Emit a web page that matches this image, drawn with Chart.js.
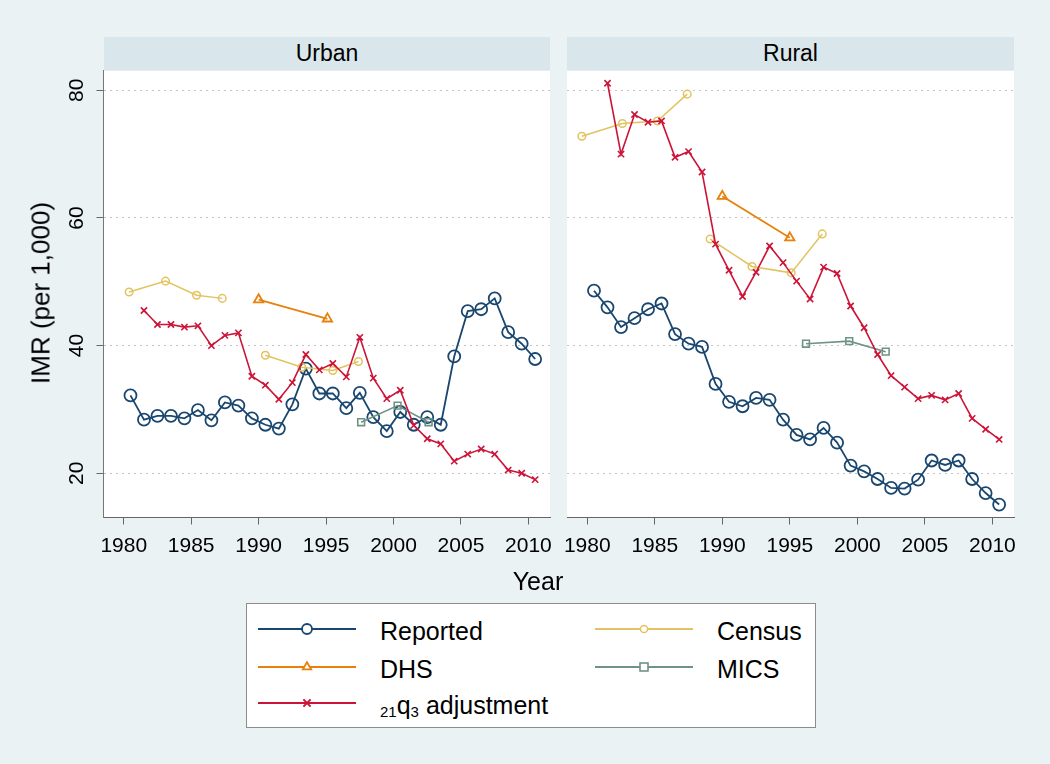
<!DOCTYPE html>
<html>
<head>
<meta charset="utf-8">
<script src="https://cdn.jsdelivr.net/npm/chart.js@4/dist/chart.umd.min.js"></script>
<style>
  html, body { margin: 0; padding: 0; }
  body {
    width: 1050px; height: 764px; overflow: hidden; position: relative;
    background: #eaf2f3; font-family: "Liberation Sans", Arial, sans-serif; color: #000;
  }
  canvas { position: absolute; left: 0; top: 0; }
  .strip {
    position: absolute; top: 37px; height: 34px; line-height: 32px;
    background: #d9e6eb; text-align: center; font-size: 23px;
  }
  .axis-title { position: absolute; font-size: 25px; white-space: nowrap; }
  #legend {
    position: absolute; left: 246px; top: 603px; width: 568px; height: 123px;
    background: #fff; border: 1px solid #8c8c8c;
  }
  .item {
    position: absolute; height: 30px; display: flex; align-items: center;
    font-size: 25px; white-space: nowrap;
  }
  .item svg { margin-right: 24px; }
  .item span { position: relative; top: 2px; }
  .item sub { font-size: 15px; vertical-align: -3px; line-height: 0; }
</style>
</head>
<body>
<div class="strip" style="left:104px;width:446px;">Urban</div>
<div class="strip" style="left:567px;width:447px;">Rural</div>
<canvas id="urban" width="1050" height="764"></canvas>
<canvas id="rural" width="1050" height="764"></canvas>
<div class="axis-title" style="left:41px;top:293px;font-size:26px;transform:translate(-50%,-50%) rotate(-90deg);">IMR (per 1,000)</div>
<div class="axis-title" style="left:538px;top:566px;line-height:30px;transform:translateX(-50%);">Year</div>
<div id="legend"></div>
<script>
const xTicks = [1980, 1985, 1990, 1995, 2000, 2005, 2010];
const yTicks = [20, 40, 60, 80];

const reportedYears = [1980.5, 1981.5, 1982.5, 1983.5, 1984.5, 1985.5, 1986.5, 1987.5, 1988.5, 1989.5,
  1990.5, 1991.5, 1992.5, 1993.5, 1994.5, 1995.5, 1996.5, 1997.5, 1998.5, 1999.5,
  2000.5, 2001.5, 2002.5, 2003.5, 2004.5, 2005.5, 2006.5, 2007.5, 2008.5, 2009.5, 2010.5];
const adjustYears = [1981.5, 1982.5, 1983.5, 1984.5, 1985.5, 1986.5, 1987.5, 1988.5, 1989.5,
  1990.5, 1991.5, 1992.5, 1993.5, 1994.5, 1995.5, 1996.5, 1997.5, 1998.5, 1999.5,
  2000.5, 2001.5, 2002.5, 2003.5, 2004.5, 2005.5, 2006.5, 2007.5, 2008.5, 2009.5, 2010.5];

// Urban
const urbanReported = [32.2, 28.4, 29.0, 29.0, 28.6, 29.9, 28.3, 31.1, 30.6, 28.6,
  27.6, 27.0, 30.8, 36.4, 32.5, 32.5, 30.2, 32.6, 28.8, 26.6,
  29.6, 27.6, 28.8, 27.6, 38.3, 45.4, 45.7, 47.4, 42.1, 40.3, 37.9];
const urbanAdjust = [45.5, 43.3, 43.3, 42.9, 43.1, 40.0, 41.6, 42.0, 35.2,
  33.8, 31.6, 34.2, 38.6, 36.2, 37.2, 35.1, 41.3, 34.9, 31.7,
  33.0, 27.5, 25.4, 24.6, 21.9, 23.0, 23.8, 23.0, 20.5, 20.0, 19.0];
const urbanCensusYears = [[1980.4, 1983.1, 1985.4, 1987.3], [1990.5, 1993.2, 1995.5, 1997.4]];
const urbanCensus = [[48.4, 50.1, 47.9, 47.4], [38.5, 36.6, 36.1, 37.5]];
const urbanDhsYears = [1990.0, 1995.1];
const urbanDhs = [47.2, 44.2];
const urbanMicsYears = [1997.6, 2000.3, 2002.6];
const urbanMics = [28.0, 30.6, 28.0];

// Rural
const ruralReported = [48.6, 46.0, 42.9, 44.3, 45.7, 46.6, 41.8, 40.3, 39.8, 34.0,
  31.2, 30.5, 31.8, 31.5, 28.4, 26.0, 25.3, 27.1, 24.8, 21.2,
  20.3, 19.1, 17.7, 17.6, 19.0, 22.0, 21.3, 22.0, 19.1, 16.9, 15.1];
const ruralAdjust = [81.1, 70.0, 76.2, 75.0, 75.2, 69.5, 70.4, 67.2, 55.9,
  51.8, 47.7, 51.5, 55.6, 53.0, 50.1, 47.3, 52.3, 51.3, 46.2,
  42.8, 38.6, 35.3, 33.5, 31.7, 32.2, 31.5, 32.5, 28.6, 26.9, 25.3];
const ruralCensusYears = [[1979.6, 1982.6, 1985.2, 1987.4], [1989.1, 1992.2, 1995.1, 1997.4]];
const ruralCensus = [[72.8, 74.8, 75.2, 79.4], [56.7, 52.4, 51.4, 57.5]];
const ruralDhsYears = [1990.0, 1995.0];
const ruralDhs = [63.4, 56.9];
const ruralMicsYears = [1996.2, 1999.4, 2002.1];
const ruralMics = [40.3, 40.7, 39.05];

const FONT = '"Liberation Sans", Arial, sans-serif';

const styles = {
  reported: { color: "#1a476f", pointStyle: "circle", radius: 6, width: 1.8, order: 4 },
  census: { color: "#e2c35f", pointStyle: "circle", radius: 3.8, width: 1.5, order: 3 },
  dhs: { color: "#e8800c", pointStyle: "triangle", radius: 5.4, width: 1.8, order: 2 },
  mics: { color: "#6f9384", pointStyle: "rect", radius: 4.8, width: 1.6, order: 1 },
  adjust: { color: "#cc1438", pointStyle: "crossRot", radius: 4.4, width: 1.6, order: 0 },
};

const series = (xs, ys, st) => ({
  data: xs.map((x, i) => ({ x, y: ys[i] })),
  borderColor: st.color,
  borderWidth: st.width,
  pointStyle: st.pointStyle,
  pointRadius: st.radius,
  pointBorderColor: st.color,
  pointBackgroundColor: "transparent",
  pointBorderWidth: st.width,
  tension: 0,
  fill: false,
  order: st.order,
});

const plotBackground = {
  id: "plotBackground",
  beforeDraw(chart) {
    const { ctx, chartArea: a } = chart;
    ctx.save();
    ctx.fillStyle = "#fff";
    ctx.fillRect(a.left, a.top, a.right - a.left, a.bottom - a.top);
    ctx.restore();
  },
};

const makePanel = (canvasId, d, isLeft) => {
  const datasets = [
    series(reportedYears, d.reported, styles.reported),
    ...d.censusYears.map((ys, i) => series(ys, d.census[i], styles.census)),
    series(d.dhsYears, d.dhs, styles.dhs),
    series(d.micsYears, d.mics, styles.mics),
    series(adjustYears, d.adjust, styles.adjust),
  ];

  new Chart(document.getElementById(canvasId), {
    type: "line",
    data: { datasets },
    options: {
      responsive: false,
      animation: false,
      events: [],
      layout: {
        padding: isLeft
          ? { left: 0, top: 70.7, right: 500, bottom: 0 }
          : { left: 567, top: 70.7, right: 36, bottom: 0 },
      },
      plugins: { legend: { display: false }, tooltip: { enabled: false } },
      scales: {
        x: {
          type: "linear",
          min: 1978.5,
          max: 2011.6,
          afterBuildTicks(axis) {
            axis.ticks = xTicks.map((v) => ({ value: v }));
          },
          afterFit(axis) {
            axis.height = 246.5;
          },
          grid: { drawOnChartArea: false, tickLength: 7, tickColor: "#666", color: "#666" },
          border: { color: "#666", width: 1 },
          ticks: {
            color: "#000",
            font: { family: FONT, size: 21 },
            padding: 9,
            maxRotation: 0,
            callback: (v) => String(v),
          },
        },
        y: {
          type: "linear",
          min: 13.07,
          max: 83.07,
          afterBuildTicks(axis) {
            axis.ticks = yTicks.map((v) => ({ value: v }));
          },
          afterFit(axis) {
            axis.width = isLeft ? 103.5 : 0;
          },
          grid: {
            color: "#c4c4c4",
            drawTicks: isLeft,
            tickLength: 7,
            tickColor: "#666",
            tickBorderDash: [],
          },
          border: { display: isLeft, color: "#777", width: 1, dash: [2, 4] },
          ticks: {
            display: isLeft,
            color: "#000",
            font: { family: FONT, size: 21 },
            minRotation: 90,
            maxRotation: 90,
            crossAlign: "center",
            padding: 8,
          },
        },
      },
    },
    plugins: [plotBackground],
  });
};

makePanel("urban", {
  reported: urbanReported, adjust: urbanAdjust,
  censusYears: urbanCensusYears, census: urbanCensus,
  dhsYears: urbanDhsYears, dhs: urbanDhs,
  micsYears: urbanMicsYears, mics: urbanMics,
}, true);

makePanel("rural", {
  reported: ruralReported, adjust: ruralAdjust,
  censusYears: ruralCensusYears, census: ruralCensus,
  dhsYears: ruralDhsYears, dhs: ruralDhs,
  micsYears: ruralMicsYears, mics: ruralMics,
}, false);

// legend (Stata-style: line with a marker in the middle, two columns)
const legendItems = [
  { label: "Reported", st: styles.reported, col: 0, row: 0, r: 5 },
  { label: "Census", st: styles.census, col: 1, row: 0, r: 3.6 },
  { label: "DHS", st: styles.dhs, col: 0, row: 1, r: 4.8 },
  { label: "MICS", st: styles.mics, col: 1, row: 1, r: 4 },
  { label: "<sub>21</sub>q<sub>3</sub> adjustment", st: styles.adjust, col: 0, row: 2, r: 3.6 },
];
const rowTops = [10, 48, 84];
const colLefts = [11, 348];

const marker = (st, r) => {
  const c = st.color, w = st.width;
  if (st.pointStyle === "circle") return `<circle cx="49" cy="8" r="${r}" fill="#fff" stroke="${c}" stroke-width="${w}"/>`;
  if (st.pointStyle === "triangle") {
    const b = r * 0.87;
    return `<polygon points="49,${8 - r} ${49 + b},${8 + r / 2} ${49 - b},${8 + r / 2}" fill="#fff" stroke="${c}" stroke-width="${w}"/>`;
  }
  if (st.pointStyle === "rect") return `<rect x="${49 - r}" y="${8 - r}" width="${2 * r}" height="${2 * r}" fill="#fff" stroke="${c}" stroke-width="${w}"/>`;
  return `<path d="M${49 - r} ${8 - r}L${49 + r} ${8 + r}M${49 + r} ${8 - r}L${49 - r} ${8 + r}" stroke="${c}" stroke-width="${w + 0.4}"/>`;
};

const legend = document.getElementById("legend");
legendItems.forEach((it) => {
  const div = document.createElement("div");
  div.className = "item";
  div.style.left = colLefts[it.col] + "px";
  div.style.top = rowTops[it.row] + "px";
  div.innerHTML =
    `<svg width="98" height="16"><line x1="0" y1="8" x2="98" y2="8" stroke="${it.st.color}" stroke-width="2"/>` +
    marker(it.st, it.r) + `</svg><span>${it.label}</span>`;
  legend.appendChild(div);
});
</script>
</body>
</html>
